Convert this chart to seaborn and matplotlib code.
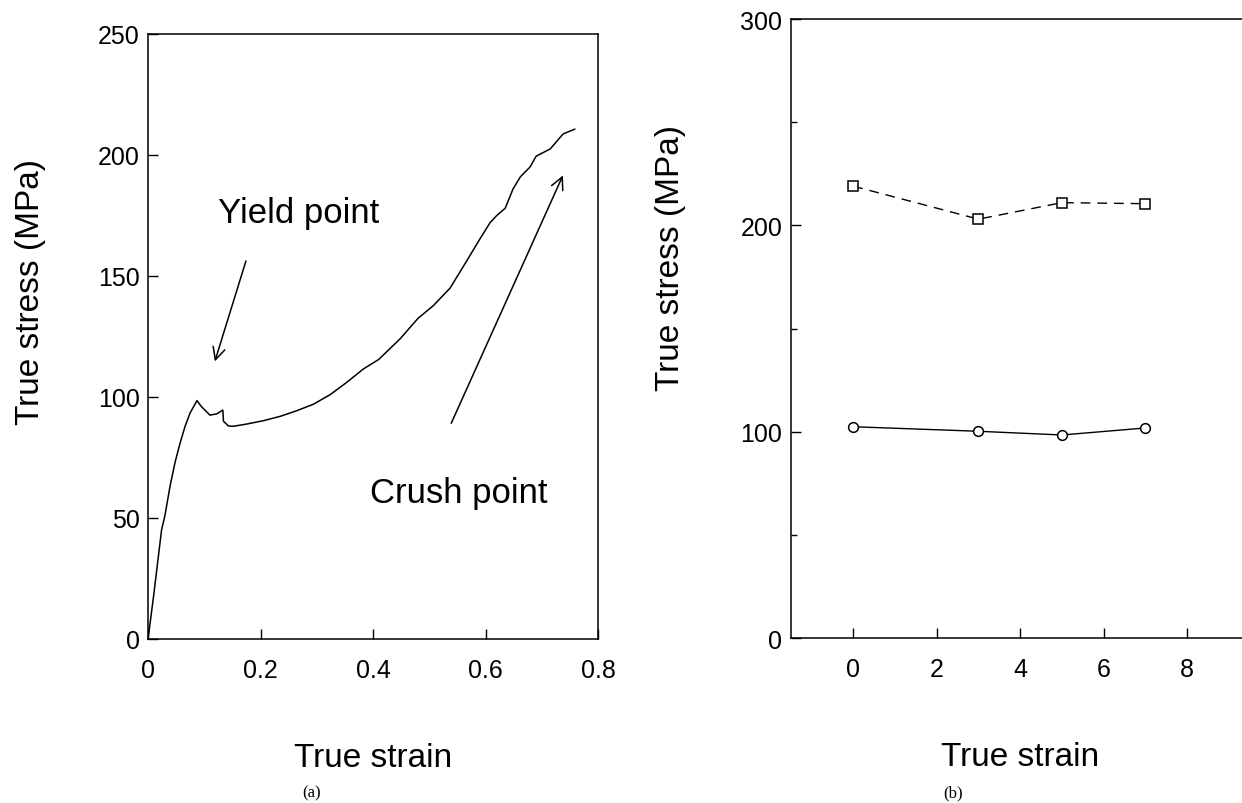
import numpy as np
import pandas as pd
import matplotlib
matplotlib.use("Agg")
import matplotlib.pyplot as plt
import seaborn as sns

# ---- panel (a): stress-strain curve
strain_a = [0.0, 0.010, 0.024, 0.030, 0.039, 0.048, 0.057, 0.066, 0.075, 0.087,
            0.095, 0.110, 0.122, 0.133, 0.134, 0.143, 0.152, 0.175, 0.205, 0.235,
            0.264, 0.294, 0.324, 0.353, 0.383, 0.410, 0.448, 0.480, 0.507, 0.537,
            0.566, 0.590, 0.608, 0.620, 0.635, 0.649, 0.662, 0.679, 0.690, 0.715,
            0.738, 0.759]
stress_a = [0.0, 18.0, 45.0, 51.0, 63.0, 73.0, 81.0, 88.0, 93.5, 98.5,
            96.0, 92.5, 93.0, 94.6, 90.0, 88.0, 87.9, 88.8, 90.2, 92.0,
            94.3, 97.0, 101.0, 106.0, 111.6, 115.5, 124.0, 132.5, 137.7, 145.0,
            156.0, 165.3, 172.0, 175.0, 178.0, 186.0, 191.0, 195.0, 199.5, 202.5,
            208.7, 210.7]

# ---- panel (b): two series vs strain
strain_b = [0, 3, 5, 7]
crush_b = [219, 203, 211, 210.5]
yield_b = [102.4, 100.2, 98.4, 101.8]

xticks_a = [0, 0.2, 0.4, 0.6, 0.8]
yticks_a = [0, 50, 100, 150, 200, 250]
xticks_b = [0, 2, 4, 6, 8]
yticks_b = [0, 100, 200, 300]

sns.set_theme(style="ticks")
plt.rcParams["font.family"] = ["Liberation Sans", "DejaVu Sans"]
plt.rcParams["axes.linewidth"] = 1.1
for key in ("text.color", "axes.labelcolor", "xtick.color", "ytick.color",
            "axes.edgecolor"):
    plt.rcParams[key] = "black"

fig = plt.figure(figsize=(12.42, 8.04), dpi=100)
ax1 = fig.add_axes([0.1192, 0.204, 0.3623, 0.7525])
ax2 = fig.add_axes([0.6366, 0.2052, 0.3696, 0.7699])

df_a = pd.DataFrame({"strain": strain_a, "stress": stress_a})
sns.lineplot(data=df_a, x="strain", y="stress", sort=False, estimator=None,
             color="black", linewidth=1.1, ax=ax1)
ax1.set_xlim(0, 0.8)
ax1.set_ylim(0, 250)
ax1.set_xticks(xticks_a)
ax1.set_xticklabels(["0", "0.2", "0.4", "0.6", "0.8"])
ax1.set_yticks(yticks_a)

ax1.annotate("", xy=(0.1173, 113.6), xytext=(0.1755, 157.3),
             arrowprops=dict(arrowstyle="->", color="black", lw=1.1,
                             mutation_scale=22))
ax1.annotate("", xy=(0.7396, 192.6), xytext=(0.537, 88.1),
             arrowprops=dict(arrowstyle="->", color="black", lw=1.1,
                             mutation_scale=22))
ax1.text(0.125, 172.2, "Yield point", fontsize=25, ha="left", va="baseline")
ax1.text(0.395, 56.5, "Crush point", fontsize=25, ha="left", va="baseline")

df_b = pd.DataFrame({"strain": strain_b, "crush": crush_b, "yield": yield_b})
sns.lineplot(data=df_b, x="strain", y="crush", color="black", linewidth=1.0,
             marker="s", markersize=7, markerfacecolor="white",
             markeredgecolor="black", markeredgewidth=1.1,
             dashes=False, linestyle=(0, (7, 5)), ax=ax2)
sns.lineplot(data=df_b, x="strain", y="yield", color="black", linewidth=1.0,
             marker="o", markersize=7, markerfacecolor="white",
             markeredgecolor="black", markeredgewidth=1.1, ax=ax2)
ax2.set_xlim(-1.5, 9.5)
ax2.set_ylim(0, 300)
ax2.set_xticks(xticks_b)
ax2.set_yticks(yticks_b)
ax2.set_yticks([50, 150, 250], minor=True)

for ax in (ax1, ax2):
    ax.tick_params(axis="both", which="major", direction="in", length=7,
                   width=1.0, labelsize=18, top=False, right=False,
                   colors="black")
    ax.tick_params(axis="y", which="major", pad=6)
    ax.tick_params(axis="x", which="major", pad=14)
    ax.tick_params(axis="y", which="minor", direction="in", length=4.5,
                   width=1.0, left=True, colors="black")
    for s in ax.spines.values():
        s.set_color("black")
        s.set_visible(True)
    ax.set_xlabel("True strain", fontsize=24, color="black")
    ax.set_ylabel("True stress (MPa)", fontsize=24, color="black")

ax1.xaxis.set_label_coords(0.5, -0.170)
ax1.yaxis.set_label_coords(-0.227, 0.575)
ax2.xaxis.set_label_coords(0.5, -0.166)
ax2.yaxis.set_label_coords(-0.227, 0.6155)

fig.text(312 / 1242, 1 - 793 / 804, "(a)", fontsize=12, ha="center", va="center",
         family=["Liberation Serif", "DejaVu Serif"])
fig.text(953 / 1242, 1 - 793 / 804, "(b)", fontsize=12, ha="center", va="center",
         family=["Liberation Serif", "DejaVu Serif"])

fig.savefig("out.png", dpi=100)
